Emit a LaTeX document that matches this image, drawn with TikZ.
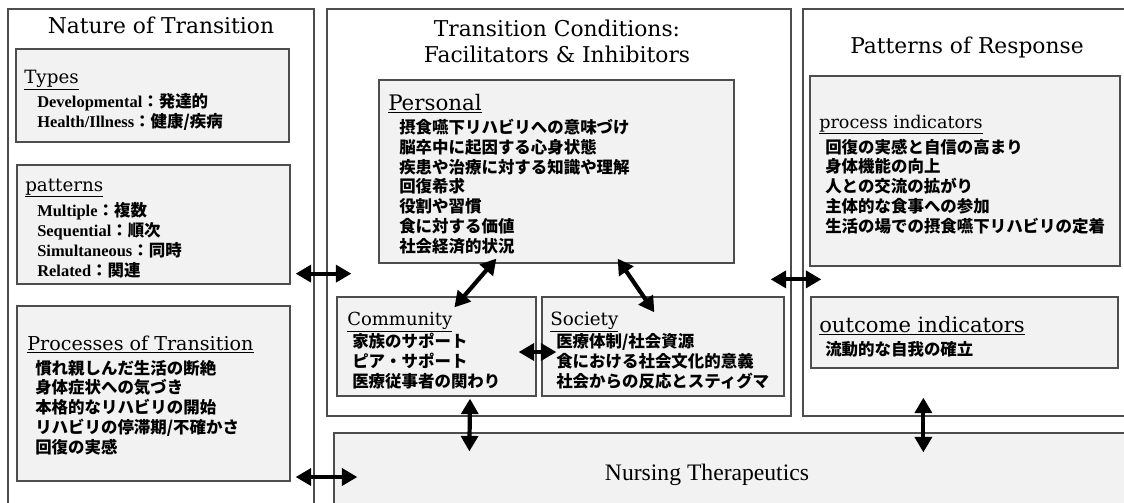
\documentclass[tikz,border=0pt]{standalone}
\usepackage{fontspec}
\setmainfont{DejaVu Serif}
\newfontfamily\lserif{Liberation Serif}
\newfontfamily\jpfont{Noto Sans CJK JP}
\usetikzlibrary{arrows.meta,fit,calc}
\definecolor{boxgray}{HTML}{F2F2F2}
\definecolor{edgegray}{HTML}{4D4D4D}
% English term in serif, Japanese gloss in gothic
\newcommand{\kv}[2]{{\lserif\bfseries #1}{\jpfont\bfseries ：#2}}

\begin{document}
\begin{tikzpicture}[x=0.025cm, y=-0.025cm,
  frame/.style={draw=edgegray, line width=0.9pt, inner sep=0pt},
  inbox/.style={draw=edgegray, line width=0.9pt, fill=boxgray, inner sep=0pt},
  ttl/.style={font=\fontsize{15.5}{17.8}\selectfont, inner sep=0pt, anchor=base, align=center},
  head/.style={inner sep=0pt, anchor=base west},
  items/.style={font=\jpfont\bfseries\fontsize{11.7}{14}\selectfont, inner sep=0pt, anchor=base west, align=left},
  arr/.style={{Triangle[length=11pt,width=12pt]}-{Triangle[length=11pt,width=12pt]}, line width=3pt, black},
]
  \useasboundingbox (0,0) rectangle (1124,502);
  % three columns
  \node[frame, fit={(8,9) (314,530)}] (nature) {};
  \node[frame, fit={(327,9) (791,416)}] (conditions) {};
  \node[frame, fit={(803,9) (1130,416)}] (response) {};
  % (multi-line nodes sit on the baseline of their last line)
  \node[ttl] (naturetitle) at (161,33) {Nature of Transition};
  \node[ttl] (condtitle) at (557,62) {Transition Conditions:\\Facilitators \& Inhibitors};
  \node[ttl] (resptitle) at (967,53) {Patterns of Response};

  % Nature of Transition
  \node[inbox, fit={(16,49) (289,142)}] (types) {};
  \node[inbox, fit={(17,165) (290,284)}] (patt) {};
  \node[inbox, fit={(17,306) (290,481)}] (proc) {};
  \node[head, font=\fontsize{13}{15}\selectfont] (typeshead) at (24,83) {\underline{Types}};
  \node[items] (typesitems) at (37,127) {\kv{Developmental}{発達的}\\\kv{Health/Illness}{健康/疾病}};
  \node[head, font=\fontsize{13}{15}\selectfont] (patthead) at (25,191) {\underline{patterns}};
  \node[items] (pattitems) at (37,276) {\kv{Multiple}{複数}\\\kv{Sequential}{順次}\\\kv{Simultaneous}{同時}\\\kv{Related}{関連}};
  \node[head, font=\fontsize{13.6}{15}\selectfont] (prochead) at (27,350) {\underline{Processes of Transition}};
  \node[items] (procitems) at (35,453) {慣れ親しんだ生活の断絶\\身体症状への気づき\\本格的なリハビリの開始\\リハビリの停滞期/不確かさ\\回復の実感};

  % Transition Conditions
  \node[inbox, fit={(379,80) (734,263)}] (personal) {};
  \node[inbox, fit={(337,297) (536,396)}] (community) {};
  \node[inbox, fit={(542,297) (784,396)}] (society) {};
  \node[head, font=\fontsize{15.2}{17}\selectfont] (personalhead) at (388,110) {\underline{Personal}};
  \node[items] (personalitems) at (399,252) {摂食嚥下リハビリへの意味づけ\\脳卒中に起因する心身状態\\疾患や治療に対する知識や理解\\回復希求\\役割や習慣\\食に対する価値\\社会経済的状況};
  \node[head, font=\fontsize{12.8}{15}\selectfont] (communityhead) at (347,325) {\underline{Community}};
  \node[items] (communityitems) at (352,387) {家族のサポート\\ピア・サポート\\医療従事者の関わり};
  \node[head, font=\fontsize{13}{15}\selectfont] (societyhead) at (550,325) {\underline{Society}};
  \node[items] (societyitems) at (556,387) {医療体制/社会資源\\食における社会文化的意義\\社会からの反応とスティグマ};

  % Patterns of Response
  \node[inbox, fit={(810,76) (1120,266)}] (procind) {};
  \node[inbox, fit={(811,297) (1118,368)}] (outind) {};
  \node[head, font=\fontsize{12.5}{15}\selectfont] (procindhead) at (819,128) {\underline{process indicators}};
  \node[items] (procinditems) at (825,232) {回復の実感と自信の高まり\\身体機能の向上\\人との交流の拡がり\\主体的な食事への参加\\生活の場での摂食嚥下リハビリの定着};
  \node[head, font=\fontsize{15}{17}\selectfont] (outindhead) at (819,332) {\underline{outcome indicators}};
  \node[items] (outinditems) at (825,355) {流動的な自我の確立};

  % Nursing Therapeutics
  \node[inbox, fit={(334,433) (1130,521)}] (nursing) {};
  \node[ttl, font=\lserif\fontsize{16.8}{18}\selectfont] (nursingtitle) at (707,480) {Nursing Therapeutics};

  % connectors
  \draw[arr] ($(patt.south east)+(5,-11)$) -- ($(conditions.south west)+(25,-143)$);
  \draw[arr] ($(proc.east |- nursing.west)+(5,0)$) -- ($(nursing.west)+(24,0)$);
  \draw[arr] ($(society.north east)+(-14,-17)$) -- ($(outind.north west)+(11,-17)$);
  \draw[arr] ($(personal.south west)+(118,-5)$) -- ($(community.north west)+(118,11)$);
  \draw[arr] ($(personal.south east)+(-117,-5)$) -- ($(society.north west)+(113,16)$);
  \draw[arr] ($(community.east)+(-18,5.5)$) -- ($(society.west)+(15,5.5)$);
  \draw[arr] ($(community.south)+(33.5,2)$) -- ($(nursing.north west)+(136,19)$);
  \draw[arr] ($(response.south west)+(121,-19)$) -- ($(nursing.north west)+(590,20)$);
\end{tikzpicture}
\end{document}
